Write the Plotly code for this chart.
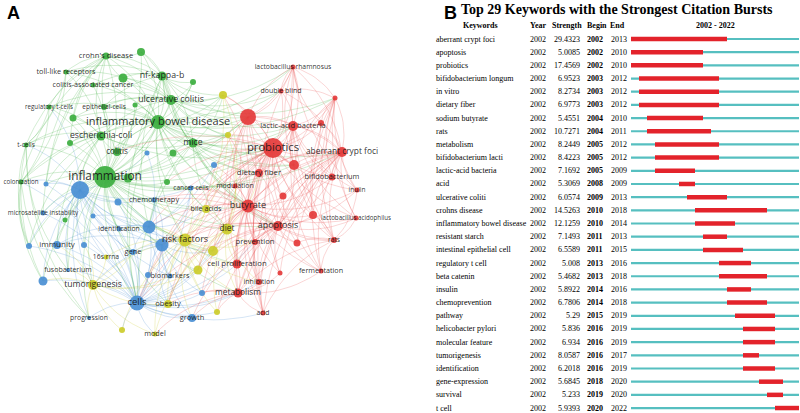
import numpy as np
import plotly.graph_objects as go

W, H = 800, 413

# ---- panel A : keyword co-occurrence network (VOSviewer layout coords) ----
node_id = ["crohn's disease", "g1", "toll-like receptors", "nf-kappa-b", "g2", "g3",
           "colitis-associated cancer", "regulatory t-cells", "epithelial-cells", "g4",
           "ulcerative colitis", "inflammatory bowel disease", "g5", "escherichia-coli",
           "t-cells", "g6", "mice", "colitis", "g7", "inflammation", "g8", "colonization",
           "g9", "g10",
           "b1", "b2", "b3", "cancer cells", "chemotherapy", "b4", "microsatellite instability",
           "b13", "identification", "b5", "b6", "immunity", "b8", "b7", "gene", "fusobacterium",
           "b9", "biomarkers", "b10", "cells", "growth", "progression", "b11", "b12",
           "y1", "y2", "bile acids", "diet", "risk factors", "y3", "16s rrna", "y4",
           "tumorigenesis", "obesity", "y5", "model", "y6",
           "lactobacillus rhamnosus", "double blind", "r3", "r1", "lactic-acid bacteria", "r2",
           "probiotics", "aberrant crypt foci", "r4", "dietary fiber", "bifidobacterium", "inulin",
           "modulation", "butyrate", "r5", "r6", "lactobacillus acidophilus", "apoptosis",
           "prevention", "r7", "rats", "cell proliferation", "fermentation", "r8", "inhibition",
           "metabolism", "acid"]
node_x = [106, 141, 66, 162, 123, 193, 93, 49, 104, 135, 171, 158, 73, 101, 26, 70, 193, 117,
          173, 105, 128, 21, 167, 65,
          147, 80, 46, 191, 154, 118, 43, 93, 119, 149, 162, 57, 29, 84, 133, 68, 43, 170, 148,
          137, 192, 89, 202, 214,
          223, 228, 206, 227, 185, 213, 106, 198, 93, 168, 122, 155, 217,
          293, 281, 335, 248, 293, 321, 273, 342, 294, 259, 332, 357, 235, 248, 283, 313, 356,
          278, 255, 297, 334, 237, 321, 280, 259, 238, 263]
node_y = [56, 52, 72, 76, 78, 82, 85, 107, 107, 105, 100, 122, 118, 136, 145, 143, 143, 152,
          153, 177, 178, 182, 182, 220,
          153, 190, 184, 188, 200, 202, 213, 216, 229, 227, 245, 245, 246, 245, 252, 270, 281,
          276, 275, 303, 318, 318, 293, 165,
          95, 135, 209, 229, 240, 251, 257, 270, 285, 304, 330, 334, 312,
          67, 91, 98, 117, 126, 123, 148, 152, 165, 173, 177, 190, 186, 206, 196, 215, 218,
          226, 242, 243, 240, 264, 271, 273, 282, 293, 313]
node_size = [7, 8, 5, 9, 9, 6, 5, 5, 6, 5, 10, 14, 7, 9, 5, 6, 9, 8, 7, 22, 9, 5, 6, 5,
             5, 18, 5, 5, 5, 7, 5, 5, 5, 13, 13, 8, 6, 6, 6, 4, 9, 5, 6, 15, 8, 4, 6, 6,
             8, 6, 8, 11, 13, 10, 5, 9, 10, 8, 6, 5, 6,
             5, 5, 5, 16, 10, 6, 20, 10, 10, 8, 7, 5, 5, 13, 7, 8, 5, 10, 6, 7, 6, 9, 5, 5, 6,
             9, 5]
node_cluster = ["g"] * 24 + ["b"] * 24 + ["y"] * 13 + ["r"] * 27
label_size = {"crohn's disease": 7.6, "toll-like receptors": 7.3, "nf-kappa-b": 8.8,
              "colitis-associated cancer": 7.2, "regulatory t-cells": 6.2, "epithelial-cells": 6.6,
              "ulcerative colitis": 8.8, "inflammatory bowel disease": 11,
              "escherichia-coli": 8.7, "t-cells": 6.5, "mice": 8.7, "colitis": 8.1,
              "inflammation": 11.8, "colonization": 6.2, "cancer cells": 6.6, "chemotherapy": 7.4,
              "microsatellite instability": 6.4, "identification": 6.8, "immunity": 8,
              "gene": 7.5, "fusobacterium": 7, "biomarkers": 7.3, "cells": 9.5, "growth": 7.5,
              "progression": 6.8, "bile acids": 7.2, "diet": 8.3, "risk factors": 9,
              "16s rrna": 6.8, "tumorigenesis": 8.7, "obesity": 7.6, "model": 7.3,
              "lactobacillus rhamnosus": 6.8, "double blind": 7, "lactic-acid bacteria": 7.6,
              "probiotics": 11.2, "aberrant crypt foci": 8.4, "dietary fiber": 7.8,
              "bifidobacterium": 7.4, "inulin": 6.5, "modulation": 7, "butyrate": 9.2,
              "lactobacillus acidophilus": 6.2, "apoptosis": 8.9, "prevention": 7.7, "rats": 6.8,
              "cell proliferation": 7.8, "fermentation": 7.2, "inhibition": 7,
              "metabolism": 8.3, "acid": 6.8}

links = {
    "inflammation": ["crohn's disease", "g1", "nf-kappa-b", "g2", "g3", "colitis-associated cancer",
                     "regulatory t-cells", "epithelial-cells", "g4", "ulcerative colitis",
                     "inflammatory bowel disease", "g5", "escherichia-coli", "t-cells", "g6", "mice",
                     "colitis", "g7", "g8", "colonization", "g9", "g10", "b1", "b2", "b3",
                     "chemotherapy", "b4", "microsatellite instability", "identification", "b5", "b6",
                     "immunity", "b7", "gene", "cells", "risk factors", "diet", "tumorigenesis",
                     "probiotics", "butyrate", "apoptosis", "lactic-acid bacteria", "r1", "obesity",
                     "cancer cells", "bile acids", "aberrant crypt foci", "dietary fiber",
                     "metabolism", "fusobacterium", "progression", "y1", "y2", "y3", "r4",
                     "cell proliferation", "b9", "b8"],
    "inflammatory bowel disease": ["crohn's disease", "g1", "toll-like receptors", "nf-kappa-b", "g2",
                                   "g3", "colitis-associated cancer", "regulatory t-cells",
                                   "epithelial-cells", "g4", "ulcerative colitis", "g5",
                                   "escherichia-coli", "t-cells", "mice", "colitis", "g7",
                                   "probiotics", "r1", "lactic-acid bacteria", "y1", "butyrate",
                                   "cells", "risk factors", "b2", "double blind",
                                   "lactobacillus rhamnosus", "aberrant crypt foci", "dietary fiber",
                                   "diet", "apoptosis", "g6", "g8", "g9", "colonization", "y2",
                                   "r3", "r4", "bile acids"],
    "ulcerative colitis": ["crohn's disease", "g1", "nf-kappa-b", "g3", "epithelial-cells", "mice",
                           "colitis", "probiotics", "r1", "lactic-acid bacteria", "double blind",
                           "lactobacillus rhamnosus", "y1", "butyrate", "escherichia-coli",
                           "toll-like receptors", "g2", "g4", "g5", "colitis-associated cancer",
                           "regulatory t-cells", "r3", "y2"],
    "nf-kappa-b": ["g1", "g2", "g3", "crohn's disease", "toll-like receptors",
                   "colitis-associated cancer", "epithelial-cells", "mice", "y1", "r1",
                   "apoptosis", "butyrate", "cells", "b5"],
    "crohn's disease": ["t-cells", "colonization", "regulatory t-cells", "toll-like receptors",
                        "escherichia-coli", "g1", "colitis", "microsatellite instability", "g2",
                        "g5", "g6", "b3"],
    "escherichia-coli": ["t-cells", "colonization", "g6", "g5", "b2", "colitis", "mice", "probiotics",
                         "fusobacterium", "regulatory t-cells", "toll-like receptors", "b3",
                         "immunity", "b8"],
    "t-cells": ["progression", "fusobacterium", "b8", "b9", "regulatory t-cells", "toll-like receptors"],
    "colonization": ["progression", "b9", "b8", "regulatory t-cells", "toll-like receptors"],
    "mice": ["probiotics", "r1", "butyrate", "dietary fiber", "lactic-acid bacteria", "y2", "colitis",
             "g7", "nf-kappa-b", "y1", "r4", "diet", "apoptosis", "cells", "b5"],
    "probiotics": ["r1", "lactic-acid bacteria", "double blind", "lactobacillus rhamnosus", "r2", "r3",
                   "aberrant crypt foci", "r4", "dietary fiber", "bifidobacterium", "inulin",
                   "modulation", "butyrate", "r5", "r6", "lactobacillus acidophilus", "apoptosis",
                   "prevention", "r7", "rats", "cell proliferation", "fermentation", "r8",
                   "inhibition", "metabolism", "acid", "y1", "y2", "diet", "risk factors",
                   "bile acids", "cells", "obesity", "b10", "b12", "colitis", "g7", "g9",
                   "b5", "b6", "y3", "y4"],
    "aberrant crypt foci": ["r3", "r2", "r4", "bifidobacterium", "inulin", "lactobacillus acidophilus",
                            "rats", "fermentation", "r6", "apoptosis", "butyrate", "dietary fiber",
                            "cell proliferation", "prevention", "r7", "lactic-acid bacteria",
                            "lactobacillus rhamnosus", "acid", "inhibition", "metabolism",
                            "double blind", "r1", "r5", "r8", "modulation", "diet"],
    "butyrate": ["dietary fiber", "modulation", "r5", "r6", "apoptosis", "prevention", "r7", "rats",
                 "cell proliferation", "fermentation", "r8", "inhibition", "metabolism", "acid",
                 "bile acids", "diet", "risk factors", "y3", "y4", "cells", "b5", "b6", "r1",
                 "lactic-acid bacteria", "inulin", "bifidobacterium", "lactobacillus acidophilus",
                 "cancer cells", "chemotherapy", "obesity", "b11", "b12", "y1", "y2", "r4"],
    "apoptosis": ["r5", "r6", "prevention", "r7", "rats", "cell proliferation", "fermentation", "r8",
                  "inhibition", "metabolism", "acid", "lactobacillus acidophilus", "bifidobacterium",
                  "inulin", "r4", "y3", "diet", "risk factors", "cells", "b6", "chemotherapy",
                  "cancer cells", "growth", "r2", "r3", "dietary fiber", "y4", "y6", "b11"],
    "r1": ["double blind", "lactobacillus rhamnosus", "r2", "r4", "dietary fiber", "modulation",
           "y1", "y2", "bile acids", "diet", "r5", "prevention", "cell proliferation"],
    "lactic-acid bacteria": ["double blind", "lactobacillus rhamnosus", "r2", "r3", "bifidobacterium",
                             "lactobacillus acidophilus", "r4", "inulin", "rats", "fermentation", "r1",
                             "dietary fiber", "r6", "acid"],
    "r3": ["lactobacillus rhamnosus", "double blind", "bifidobacterium", "inulin",
           "lactobacillus acidophilus", "rats", "fermentation", "r4", "r2", "r6"],
    "lactobacillus rhamnosus": ["double blind", "r1", "r2", "acid", "rats", "r4", "inulin"],
    "rats": ["fermentation", "inulin", "lactobacillus acidophilus", "r6", "r7", "acid", "metabolism"],
    "cells": ["b2", "b3", "b4", "b5", "b6", "b7", "b8", "b9", "immunity", "gene", "identification",
              "fusobacterium", "biomarkers", "b10", "growth", "progression", "b11", "tumorigenesis",
              "obesity", "y5", "model", "16s rrna", "y4", "y6", "risk factors", "diet", "metabolism",
              "cell proliferation", "inhibition", "acid", "microsatellite instability",
              "chemotherapy", "cancer cells", "colonization", "b13", "y3", "prevention"],
    "b2": ["b3", "b4", "microsatellite instability", "b5", "b6", "immunity", "b7", "b8", "gene",
           "fusobacterium", "b9", "identification", "colonization", "t-cells", "regulatory t-cells",
           "progression", "tumorigenesis", "chemotherapy", "risk factors", "b13", "16s rrna",
           "g10", "cancer cells", "b1", "biomarkers"],
    "risk factors": ["bile acids", "diet", "y3", "y4", "y5", "tumorigenesis", "obesity", "model",
                     "16s rrna", "y6", "y1", "y2", "b5", "b6", "gene", "biomarkers",
                     "cell proliferation", "metabolism", "prevention", "growth", "b10", "b11",
                     "chemotherapy", "cancer cells", "identification", "inhibition"],
    "b5": ["b4", "b13", "identification", "chemotherapy", "cancer cells", "b1", "b12", "gene",
           "immunity", "biomarkers", "y3", "bile acids"],
    "b6": ["b5", "gene", "identification", "biomarkers", "b10", "growth", "b11", "tumorigenesis",
           "immunity", "chemotherapy", "cancer cells", "y4", "y3", "obesity"],
    "tumorigenesis": ["16s rrna", "fusobacterium", "b9", "y5", "model", "obesity", "progression",
                      "gene", "immunity", "biomarkers", "y4", "b7"],
    "diet": ["bile acids", "y1", "y2", "y3", "y4", "obesity", "dietary fiber", "modulation",
             "metabolism", "cell proliferation", "y6", "model", "prevention", "inhibition"],
    "metabolism": ["acid", "inhibition", "cell proliferation", "y6", "growth", "b11", "obesity",
                   "model", "fermentation", "r8", "prevention"],
}

node_colors = {"g": "#3cae3f", "b": "#4a8fd4", "y": "#cccc2a", "r": "#e4393a"}
edge_colors = {"g": "rgba(70,180,70,0.3)", "b": "rgba(80,145,215,0.3)",
               "y": "rgba(205,205,50,0.32)", "r": "rgba(235,85,85,0.3)"}

# ---- panel B : citation bursts ----
keywords = ["aberrant crypt foci", "apoptosis", "probiotics", "bifidobacterium longum", "in vitro",
            "dietary fiber", "sodium butyrate", "rats", "metabolism", "bifidobacterium lacti",
            "lactic-acid bacteria", "acid", "ulcerative coliti", "crohns disease",
            "inflammatory bowel disease", "resistant starch", "intestinal epithelial cell",
            "regulatory t cell", "beta catenin", "insulin", "chemoprevention", "pathway",
            "helicobacter pylori", "molecular feature", "tumorigenesis", "identification",
            "gene-expression", "survival", "t cell"]
strength = [29.4323, 5.0085, 17.4569, 6.9523, 8.2734, 6.9773, 5.4551, 10.7271, 8.2449, 8.4223,
            7.1692, 5.3069, 6.0574, 14.5263, 12.1259, 7.1493, 6.5589, 5.008, 5.4682, 5.8922,
            6.7806, 5.29, 5.836, 6.934, 8.0587, 6.2018, 5.6845, 5.233, 5.9393]
begin = [2002, 2002, 2002, 2003, 2003, 2003, 2004, 2004, 2005, 2005, 2005, 2008, 2009, 2010, 2010,
         2011, 2011, 2013, 2013, 2014, 2014, 2015, 2016, 2016, 2016, 2016, 2018, 2019, 2020]
end = [2013, 2010, 2010, 2012, 2012, 2012, 2010, 2011, 2012, 2012, 2009, 2009, 2013, 2018, 2014,
       2013, 2015, 2016, 2018, 2016, 2018, 2019, 2019, 2019, 2017, 2019, 2020, 2020, 2022]
first_year, last_year = 2002, 2022

fig = go.Figure()

pos = {n: (x, y) for n, x, y in zip(node_id, node_x, node_y)}
clu = dict(zip(node_id, node_cluster))
t = np.linspace(0, 1, 14)
edge_xy = {c: ([], []) for c in node_colors}
for src, targets in links.items():
    for dst in targets:
        (x0, y0), (x1, y1) = pos[src], pos[dst]
        cx = (x0 + x1) / 2 - (y1 - y0) * 0.18
        cy = (y0 + y1) / 2 + (x1 - x0) * 0.18
        bx = (1 - t) ** 2 * x0 + 2 * (1 - t) * t * cx + t ** 2 * x1
        by = (1 - t) ** 2 * y0 + 2 * (1 - t) * t * cy + t ** 2 * y1
        ex, ey = edge_xy[clu[src]]
        ex.extend(list(bx) + [None])
        ey.extend(list(by) + [None])

for c in ["b", "y", "g", "r"]:
    fig.add_trace(go.Scatter(x=edge_xy[c][0], y=edge_xy[c][1], mode="lines",
                             line=dict(color=edge_colors[c], width=0.8),
                             hoverinfo="skip", showlegend=False))

fig.add_trace(go.Scatter(x=node_x, y=node_y, mode="markers",
                         marker=dict(size=node_size, color=[node_colors[c] for c in node_cluster],
                                     opacity=0.92, line=dict(width=0)),
                         text=node_id, hoverinfo="text", showlegend=False))

lab = [n for n in node_id if n in label_size]
fig.add_trace(go.Scatter(x=[pos[n][0] for n in lab], y=[pos[n][1] for n in lab], mode="text",
                         text=lab, textposition="middle center",
                         textfont=dict(family="Open Sans", size=[label_size[n] for n in lab],
                                       color="rgba(20,20,20,0.9)"),
                         hoverinfo="skip", showlegend=False))

# timeline bars
rows = list(range(len(keywords)))
tx, ty, rx, ry = [], [], [], []
for i, b, e in zip(rows, begin, end):
    tx += [first_year, last_year + 1, None]
    ty += [i, i, None]
    rx += [b, e + 1, None]
    ry += [i, i, None]
fig.add_trace(go.Scatter(x=tx, y=ty, mode="lines", xaxis="x2", yaxis="y2",
                         line=dict(color="#56bfc0", width=2.2), hoverinfo="skip", showlegend=False))
fig.add_trace(go.Scatter(x=rx, y=ry, mode="lines", xaxis="x2", yaxis="y2",
                         line=dict(color="#e3232b", width=4.5), hoverinfo="skip", showlegend=False))

serif = "Liberation Serif"
ann = []


def cell(txt, px, row, anchor="center", bold=False, size=8):
    ann.append(dict(text="<b>%s</b>" % txt if bold else txt, x=px / W, xref="paper", y=row,
                    yref="y2", xanchor=anchor, yanchor="middle", showarrow=False,
                    font=dict(family=serif, size=size, color="black")))


for i in rows:
    cell(keywords[i], 434, i, "left")
    cell(str(first_year), 538, i)
    cell(str(strength[i]), 582, i, "right")
    cell(str(begin[i]), 594.5, i, bold=True)
    cell(str(end[i]), 618.5, i)

for txt, px in [("Keywords", 480.5), ("Year", 538), ("Strength", 566.5), ("Begin", 597),
                ("End", 617.5), ("%d - %d" % (first_year, last_year), 715)]:
    cell(txt, px, -1, bold=True)

ann.append(dict(text="<b>Top 29 Keywords with the Strongest Citation Bursts</b>", x=617 / W,
                xref="paper", y=1 - 9 / H, yref="paper", xanchor="center", yanchor="middle",
                showarrow=False, font=dict(family=serif, size=14, color="black")))
for letter, px in [("A", 13), ("B", 450)]:
    ann.append(dict(text="<b>%s</b>" % letter, x=px / W, xref="paper", y=1 - 13 / H,
                    yref="paper", xanchor="center", yanchor="middle", showarrow=False,
                    font=dict(family="Liberation Sans", size=18, color="black")))

fig.update_layout(
    width=W, height=H, margin=dict(l=0, r=0, t=0, b=0),
    paper_bgcolor="white", plot_bgcolor="white", annotations=ann,
    xaxis=dict(domain=[0, 416 / W], range=[0, 416], visible=False),
    yaxis=dict(domain=[0, 1], range=[H, 0], visible=False),
    xaxis2=dict(domain=[631 / W, 799 / W], range=[first_year, last_year + 1], visible=False,
                anchor="y2"),
    yaxis2=dict(domain=[0, 1], range=[(H - 39) / 13.18, -39 / 13.18], visible=False,
                anchor="x2"),
)

# the page body has a default 8px margin; drop it so the figure fills the window
fig.write_html("out.html", config={"displayModeBar": False},
               post_script="document.body.style.margin='0';")
